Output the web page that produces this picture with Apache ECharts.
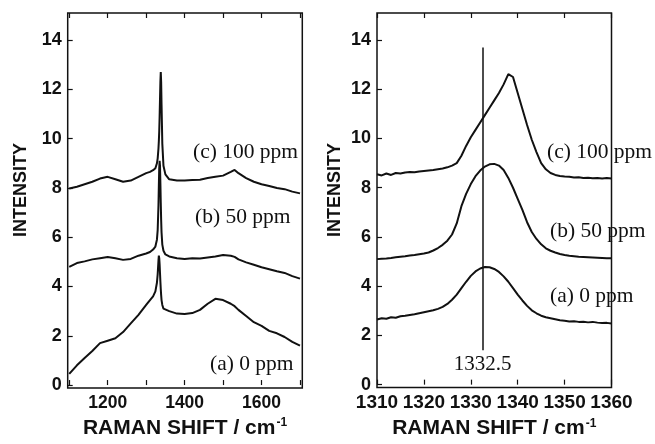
<!DOCTYPE html>
<html>
<head>
<meta charset="utf-8">
<script src="https://cdn.jsdelivr.net/npm/echarts@6/dist/echarts.min.js"></script>
<style>
  html, body { margin: 0; padding: 0; background: #fff; }
  #chart { width: 655px; height: 444px; }
</style>
</head>
<body>
<div id="chart"></div>
<script>
// left panel: wide scan 1100-1700 cm-1
const wideShift = [1100, 1120, 1140, 1160, 1180, 1200, 1220, 1240, 1260, 1280, 1300,
  1310, 1318, 1324, 1328, 1330, 1332,
  1333, 1334, 1335, 1336, 1337, 1338, 1339, 1340,
  1342, 1345, 1350,
  1360, 1380, 1400, 1420, 1440, 1460, 1480, 1500, 1520,
  1530,
  1540, 1560, 1580, 1600, 1620, 1640, 1660, 1680, 1700];
const wideA = [0.45, 0.8, 1.1, 1.38, 1.7, 1.8, 1.9, 2.15, 2.5, 2.85, 3.25,
  3.45, 3.6, 3.8, 4.15, 4.5, 5.05,
  5.25, 5.15, 4.9, 4.55, 4.2, 3.9, 3.65, 3.45,
  3.25, 3.1, 3.05,
  3.0, 2.9, 2.88, 2.92, 3.05, 3.3, 3.5, 3.45, 3.3,
  3.2,
  3.05, 2.8, 2.55, 2.4, 2.2, 2.1, 1.95, 1.75, 1.6];
const wideB = [4.8, 4.95, 5.02, 5.1, 5.15, 5.2, 5.15, 5.08, 5.12, 5.25, 5.34,
  5.4, 5.5, 5.62, 5.9, 6.3, 7.3,
  8.1, 8.8, 9.1, 8.9, 8.2, 7.4, 6.7, 6.2,
  5.7, 5.45, 5.3,
  5.22, 5.15, 5.12, 5.15, 5.14, 5.18, 5.22, 5.28, 5.25,
  5.2,
  5.1, 4.98, 4.88, 4.78, 4.7, 4.62, 4.55, 4.42, 4.32];
const wideC = [7.98, 8.05, 8.15, 8.25, 8.38, 8.45, 8.35, 8.25, 8.3, 8.45, 8.6,
  8.65, 8.72, 8.8, 9.0, 9.2, 9.6,
  9.9, 10.3, 10.9, 11.6, 12.3, 12.7, 12.3, 11.4,
  9.8, 8.9, 8.55,
  8.35, 8.3, 8.3, 8.32, 8.33, 8.4, 8.45, 8.5, 8.65,
  8.73,
  8.6, 8.4, 8.25, 8.15, 8.08, 8.0, 7.95, 7.85, 7.78];

// right panel: narrow scan 1310-1360 cm-1
const narrowShift = [1310, 1311, 1312, 1313, 1314, 1315, 1316, 1317, 1318, 1319,
  1320, 1321, 1322, 1323, 1324, 1325, 1326, 1327, 1328, 1329,
  1330, 1331, 1332, 1333, 1334, 1335, 1336, 1337, 1338, 1339,
  1340, 1341, 1342, 1343, 1344, 1345, 1346, 1347, 1348, 1349,
  1350, 1351, 1352, 1353, 1354, 1355, 1356, 1357, 1358, 1359, 1360];
const narrowA = [2.65, 2.7, 2.68, 2.74, 2.72, 2.78, 2.8, 2.83, 2.86, 2.9,
  2.94, 2.98, 3.02, 3.08, 3.16, 3.28, 3.45, 3.66, 3.92, 4.18,
  4.42, 4.6, 4.72, 4.78, 4.77, 4.7, 4.58, 4.4, 4.18, 3.92,
  3.66, 3.42, 3.2, 3.02, 2.9, 2.8, 2.74, 2.7, 2.66, 2.62,
  2.6, 2.57, 2.58, 2.55, 2.56, 2.53, 2.55, 2.52, 2.5, 2.51, 2.48];
const narrowB = [5.1, 5.12, 5.13, 5.15, 5.18, 5.2, 5.22, 5.25, 5.27, 5.3,
  5.33, 5.37, 5.45, 5.55, 5.68, 5.85, 6.1, 6.55, 7.25, 7.75,
  8.15, 8.47, 8.7, 8.86, 8.95, 8.97, 8.9, 8.72, 8.4, 8.0,
  7.55, 7.1, 6.6, 6.2, 5.92, 5.7, 5.54, 5.44, 5.37, 5.31,
  5.27, 5.24, 5.22, 5.2, 5.19, 5.18, 5.17, 5.16, 5.15, 5.14, 5.14];
const narrowC = [8.55, 8.5, 8.58, 8.52, 8.6, 8.58, 8.62, 8.64, 8.63, 8.66,
  8.68, 8.7, 8.72, 8.75, 8.78, 8.83, 8.9, 9.0, 9.3, 9.7,
  10.05, 10.35, 10.65, 10.95, 11.25, 11.55, 11.85, 12.2, 12.62, 12.5,
  11.85, 11.2, 10.55, 9.95, 9.45, 9.0, 8.75, 8.6, 8.52, 8.48,
  8.46, 8.45, 8.42, 8.43, 8.4, 8.41, 8.39, 8.4, 8.38, 8.4, 8.38];

// diamond reference line
const diamondShift = 1332.5;
const diamondSpan = [1.4, 13.7];

const intensityTicks = [0, 2, 4, 6, 8, 10, 12, 14];
const wideTicks = [1100, 1200, 1300, 1400, 1500, 1600, 1700];
const wideLabels = [1200, 1400, 1600];
const narrowTicks = [1310, 1320, 1330, 1340, 1350, 1360];
const seriesNames = ['(a) 0 ppm', '(b) 50 ppm', '(c) 100 ppm'];

const ink = '#111';
const sansBold = { fontFamily: 'Liberation Sans', fontWeight: 'bold', color: ink };

function zip(xs, ys) {
  return xs.map((x, i) => [x, ys[i]]);
}

function yAxisFor(gridIndex) {
  return {
    type: 'value', gridIndex: gridIndex, min: -0.12, max: 15.1,
    axisLine: { show: false },
    axisTick: { inside: true, length: 5, customValues: intensityTicks, lineStyle: { color: ink, width: 1.2 } },
    axisLabel: { customValues: intensityTicks, margin: 6, fontSize: 18, formatter: v => String(v), ...sansBold },
    splitLine: { show: false }
  };
}

function xAxisFor(gridIndex, pos, range, ticks, labels, labelSize) {
  return {
    type: 'value', gridIndex: gridIndex, position: pos, min: range[0], max: range[1],
    axisLine: { show: false },
    axisTick: { inside: true, length: 5, customValues: ticks, lineStyle: { color: ink, width: 1.2 } },
    axisLabel: labels ? { customValues: labels, margin: 6, fontSize: labelSize, formatter: v => String(v), ...sansBold } : { show: false },
    splitLine: { show: false },
    name: pos === 'bottom' ? 'RAMAN SHIFT / cm{sup|-1}' : '',
    nameLocation: 'middle',
    nameGap: 29,
    nameTextStyle: {
      fontSize: 21, ...sansBold,
      rich: { sup: { fontSize: 12, fontFamily: 'Liberation Sans', fontWeight: 'bold', color: ink, verticalAlign: 'top', padding: [0, 0, 10, 1] } }
    }
  };
}

function curve(xs, ys, name, axisIndex) {
  return {
    type: 'line', name: name, xAxisIndex: axisIndex, yAxisIndex: axisIndex,
    data: zip(xs, ys), showSymbol: false, symbol: 'none', silent: true,
    lineStyle: { color: ink, width: 2 }
  };
}

const chart = echarts.init(document.getElementById('chart'));
const frame = { show: true, borderColor: ink, borderWidth: 1.5, backgroundColor: 'transparent' };

chart.setOption({
  backgroundColor: '#fff',
  animation: false,
  grid: [
    { left: 67.7, right: 352.7, top: 13, bottom: 56, ...frame },
    { left: 377, right: 43.5, top: 13, bottom: 56, ...frame }
  ],
  xAxis: [
    xAxisFor(0, 'bottom', [1096, 1706], wideTicks, wideLabels, 17.5),
    xAxisFor(1, 'bottom', [1310, 1360], narrowTicks, narrowTicks, 19),
    xAxisFor(0, 'top', [1096, 1706], wideTicks, null),
    xAxisFor(1, 'top', [1310, 1360], narrowTicks, null)
  ],
  yAxis: [yAxisFor(0), yAxisFor(1)],
  series: [
    curve(wideShift, wideA, seriesNames[0], 0),
    curve(wideShift, wideB, seriesNames[1], 0),
    curve(wideShift, wideC, seriesNames[2], 0),
    curve(narrowShift, narrowA, seriesNames[0], 1),
    curve(narrowShift, narrowB, seriesNames[1], 1),
    {
      ...curve(narrowShift, narrowC, seriesNames[2], 1),
      markLine: {
        silent: true, symbol: 'none',
        lineStyle: { color: ink, width: 1.5, type: 'solid' },
        label: { show: true, position: 'start', distance: 4, formatter: String(diamondShift),
          fontFamily: 'Liberation Serif', fontSize: 21, color: ink },
        data: [[{ coord: [diamondShift, diamondSpan[0]] }, { coord: [diamondShift, diamondSpan[1]] }]]
      }
    }
  ],
  graphic: [
    { type: 'text', left: 12, top: 143, rotation: Math.PI / 2, style: { text: 'INTENSITY', font: 'bold 18px "Liberation Sans"', fill: ink } },
    { type: 'text', left: 326, top: 143, rotation: Math.PI / 2, style: { text: 'INTENSITY', font: 'bold 18px "Liberation Sans"', fill: ink } },
    { type: 'text', left: 193, top: 141, style: { text: seriesNames[2], font: '21.5px "Liberation Serif"', fill: ink } },
    { type: 'text', left: 195, top: 206, style: { text: seriesNames[1], font: '21.5px "Liberation Serif"', fill: ink } },
    { type: 'text', left: 210, top: 353, style: { text: seriesNames[0], font: '21.5px "Liberation Serif"', fill: ink } },
    { type: 'text', left: 547, top: 141, style: { text: seriesNames[2], font: '21.5px "Liberation Serif"', fill: ink } },
    { type: 'text', left: 550, top: 220, style: { text: seriesNames[1], font: '21.5px "Liberation Serif"', fill: ink } },
    { type: 'text', left: 550, top: 285, style: { text: seriesNames[0], font: '21.5px "Liberation Serif"', fill: ink } }
  ]
});
</script>
</body>
</html>
